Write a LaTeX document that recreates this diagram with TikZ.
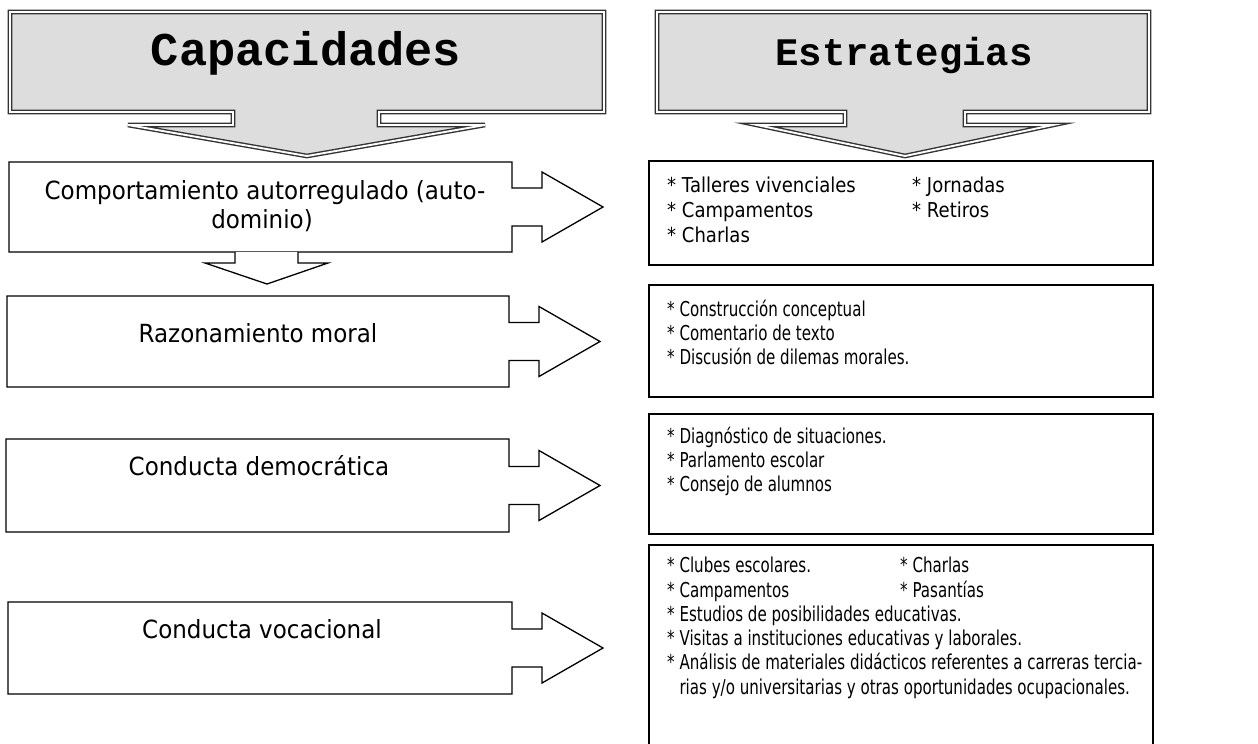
\documentclass[tikz,border=0pt]{standalone}
\usepackage{fontspec}
\setmainfont{DejaVu Sans}
\newfontfamily\tah[FakeStretch=0.88]{DejaVu Sans}
\newfontfamily\tahl[FakeStretch=0.92]{DejaVu Sans}
\newfontfamily\tahn[FakeStretch=0.735]{DejaVu Sans}
\newfontfamily\cour{Liberation Mono}
\definecolor{hdrfill}{HTML}{DDDDDD}
\definecolor{hdrline}{HTML}{333333}
\newcommand\lboxshape[5]{%
  \pgfmathsetmacro\lbYc{(#3+#5)/2}%
  \pgfmathsetmacro\lbSa{\lbYc-19}\pgfmathsetmacro\lbSb{\lbYc+19}%
  \pgfmathsetmacro\lbHa{\lbYc-35}\pgfmathsetmacro\lbHb{\lbYc+35}%
  \pgfmathsetmacro\lbHx{#4+30}\pgfmathsetmacro\lbTx{#4+91}%
  \pgfmathsetmacro\lbCx{(#2+#4)/2}%
  \draw[lboxline] (#2,#3) -- (#4,#3) -- (#4,\lbSa) -- (\lbHx,\lbSa) -- (\lbHx,\lbHa)
     -- (\lbTx,\lbYc) -- (\lbHx,\lbHb) -- (\lbHx,\lbSb) -- (#4,\lbSb) -- (#4,#5) -- (#2,#5) -- cycle;
  \coordinate (#1) at (\lbCx,#3);
}
\begin{document}
\begin{tikzpicture}[x=1pt,y=-1pt,
  hdr/.style={fill=hdrfill, draw=hdrline, line width=1.4pt, double=white, double distance=1.9pt, line join=miter},
  ctitle/.style={font=\cour\bfseries\fontsize{47}{50}\selectfont, inner sep=0pt, anchor=base},
  etitle/.style={font=\cour\bfseries\fontsize{39}{42}\selectfont, inner sep=0pt, anchor=base},
  lboxline/.style={draw=black, line width=1.3pt, fill=white, line join=miter},
  rboxline/.style={draw=black, line width=1.7pt, fill=white, inner sep=0pt, anchor=north west},
  ltext/.style={font=\tahl\fontsize{25}{29}\selectfont, inner sep=0pt, anchor=base},
  rtext/.style={font=\tah\fontsize{20.5}{24.4}\selectfont, inner sep=0pt, anchor=base west},
  ntext/.style={font=\tahn\fontsize{20.5}{24.4}\selectfont, inner sep=0pt, anchor=base west}
]
\useasboundingbox (0,0) rectangle (1258,744);
\clip (0,0) rectangle (1258,744);
\fill[white] (0,0) rectangle (1258,744);

% right boxes
\node[rboxline, minimum width=504pt, minimum height=104pt] (s1) at (648,160) {};
\node[rboxline, minimum width=504pt, minimum height=112pt] (s2) at (648,284) {};
\node[rboxline, minimum width=504pt, minimum height=120pt] (s3) at (648,413) {};
\node[rboxline, minimum width=504pt, minimum height=230pt] (s4) at (648,544) {};

% left boxes with arrows
\lboxshape{b1}{9}{162}{512}{252}
\lboxshape{b2}{7}{296}{509}{387}
\lboxshape{b3}{6}{439}{509}{532}
\lboxshape{b4}{8}{602}{512}{694}

% small down arrow between b1 and b2
\draw[lboxline] (235,252) -- (235,263) -- (205,263) -- (267,284) -- (328,263) -- (298,263) -- (298,252);

% headers
\path[hdr] (10,12) -- (604,12) -- (604,112) -- (379,112) -- (379,125) -- (485,125)
   -- (307,156) -- (128,125) -- (233,125) -- (233,112) -- (10,112) -- cycle;
\path[hdr] (657,12) -- (1149,12) -- (1149,112) -- (965,112) -- (965,125) -- (1053,125)
   -- (905,156) -- (757,125) -- (845,125) -- (845,112) -- (657,112) -- cycle;
\node[ctitle] (cap) at (306,65) {Capacidades};
\node[etitle] (est) at (904,65) {Estrategias};

% left texts
\node[ltext] (t1a) at (265,199) {Comportamiento autorregulado (auto-};
\node[ltext] (t1b) at (262,228) {dominio)};
\node[ltext] (t2) at (258,342) {Razonamiento moral};
\node[ltext] (t3) at (259,475) {Conducta democrática};
\node[ltext] (t4) at (262,638) {Conducta vocacional};

% right texts
\node[rtext] (r1a) at (667,192) {* Talleres vivenciales};
\node[rtext] (r1b) at (667,217) {* Campamentos};
\node[rtext] (r1c) at (667,242) {* Charlas};
\node[rtext] (r1d) at (912,192) {* Jornadas};
\node[rtext] (r1e) at (912,217) {* Retiros};

\node[ntext] (r2a) at (667,316) {* Construcción conceptual};
\node[ntext] (r2b) at (667,340) {* Comentario de texto};
\node[ntext] (r2c) at (667,364) {* Discusión de dilemas morales.};

\node[ntext] (r3a) at (667,443) {* Diagnóstico de situaciones.};
\node[ntext] (r3b) at (667,467) {* Parlamento escolar};
\node[ntext] (r3c) at (667,491) {* Consejo de alumnos};

\node[ntext] (r4a) at (667,572) {* Clubes escolares.};
\node[ntext] (r4b) at (667,597) {* Campamentos};
\node[ntext] (r4c) at (667,621) {* Estudios de posibilidades educativas.};
\node[ntext] (r4d) at (667,645) {* Visitas a instituciones educativas y laborales.};
\node[ntext] (r4e) at (667,669) {* Análisis de materiales didácticos referentes a carreras tercia-};
\node[ntext] (r4f) at (667,694) {\phantom{* }rias y/o universitarias y otras oportunidades ocupacionales.};
\node[ntext] (r4g) at (900,572) {* Charlas};
\node[ntext] (r4h) at (900,597) {* Pasantías};
\end{tikzpicture}
\end{document}
